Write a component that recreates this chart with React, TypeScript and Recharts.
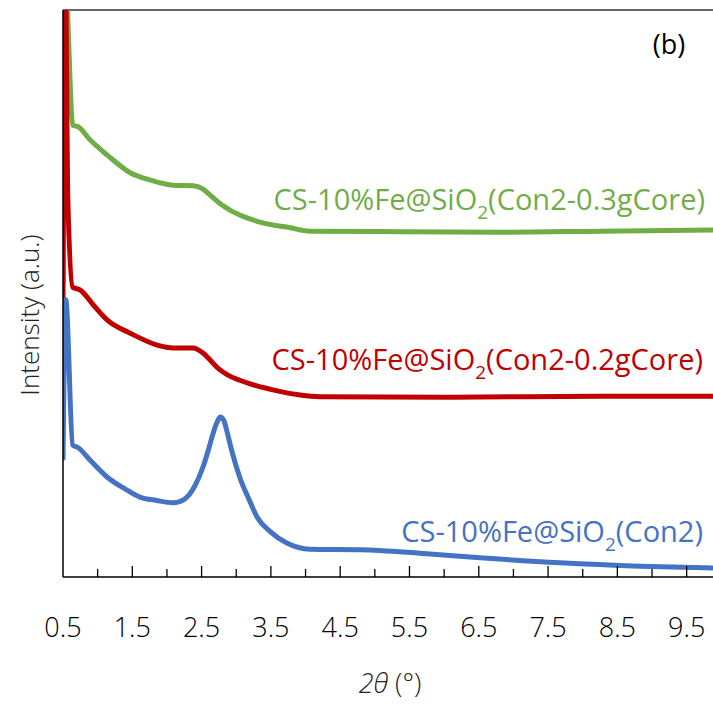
import { LineChart, Line, XAxis, YAxis, ReferenceLine } from "recharts";

// 2θ ticks (labels only on x.5)
const xTicks = [0.5, 1, 1.5, 2, 2.5, 3, 3.5, 4, 4.5, 5, 5.5, 6, 6.5, 7, 7.5, 8, 8.5, 9, 9.5];

// CS-10%Fe@SiO2(Con2-0.3gCore) - green
const greenTheta = [0.5, 0.53, 0.57, 0.64, 0.72, 0.89, 1.14, 1.47, 1.76, 2.09, 2.38, 2.52, 2.62, 2.76, 2.91, 3.1, 3.34, 3.78, 4.06, 5.36, 6.81, 8.25, 9.88];
const greenInt = [520, 1100, 982, 797, 794, 771, 744, 713, 700, 691, 690, 684, 674, 659, 647, 636, 626, 616, 610, 609, 608, 610, 612];

// CS-10%Fe@SiO2(Con2-0.2gCore) - red
const redTheta = [0.5, 0.53, 0.57, 0.64, 0.75, 0.95, 1.14, 1.47, 1.86, 2.09, 2.38, 2.52, 2.62, 2.72, 2.88, 3.05, 3.3, 3.53, 3.92, 4.21, 6.08, 8.25, 9.88];
const redInt = [489, 1100, 665, 511, 506, 478, 453, 430, 409, 404, 404, 395, 383, 370, 356, 347, 337, 330, 321, 318, 317, 319, 319];

// CS-10%Fe@SiO2(Con2) - blue
const blueTheta = [0.5, 0.54, 0.64, 0.72, 0.9, 1.14, 1.4, 1.61, 1.85, 2.09, 2.25, 2.4, 2.52, 2.6, 2.67, 2.72, 2.77, 2.82, 2.87, 2.93, 3.05, 3.18, 3.3, 3.49, 3.73, 4.06, 4.79, 5.65, 6.52, 7.67, 8.83, 9.88];
const blueInt = [206, 489, 233, 228, 205, 176, 155, 141, 135, 131, 137, 160, 194, 225, 255, 272, 282, 276, 255, 225, 176, 138, 106, 80, 60, 49, 48, 42, 34, 25, 19, 16];

const toRows = (xs: number[], ys: number[]) => xs.map((x, i) => ({ theta: x, intensity: ys[i] }));

const greenData = toRows(greenTheta, greenInt);
const redData = toRows(redTheta, redInt);
const blueData = toRows(blueTheta, blueInt);

const FONT = "'Open Sans', 'Noto Sans', sans-serif";

const XTick = (props: any) => {
  const { x, y, payload } = props;
  const v = payload.value as number;
  const major = Math.abs(v - Math.floor(v) - 0.5) < 1e-6;
  return (
    <g>
      {v > 0.5 && (
        <line x1={x} x2={x} y1={y} y2={y - (major ? 11 : 8)} stroke="#000" strokeWidth={1.3} />
      )}
      {major && (
        <text x={x} y={y + 60} textAnchor="middle" fontSize={27} fill="#000" fontFamily={FONT} fontWeight={300}>
          {v.toFixed(1)}
        </text>
      )}
    </g>
  );
};

const SeriesLabel = ({ x, y, color, tail }: { x: number; y: number; color: string; tail: string }) => (
  <text x={x} y={y} textAnchor="end" fontSize={29} fill={color} fontFamily={FONT}>
    CS-10%Fe@SiO
    <tspan fontSize={19} dy={9}>2</tspan>
    <tspan dy={-9}>{tail}</tspan>
  </text>
);

export default function App() {
  return (
    <div style={{ position: "absolute", left: 0, top: 0, width: 713, height: 709, background: "#fff" }}>
      <LineChart width={713} height={709} margin={{ top: 10, right: 0, bottom: 0, left: 0 }}>
        <XAxis
          type="number"
          dataKey="theta"
          domain={[0.5, 9.88]}
          ticks={xTicks}
          interval={0}
          allowDataOverflow
          height={132}
          tickSize={0}
          tickMargin={0}
          tickLine={false}
          tick={<XTick />}
          axisLine={{ stroke: "#000", strokeWidth: 1.5 }}
        />
        <YAxis
          type="number"
          dataKey="intensity"
          domain={[0, 1000]}
          allowDataOverflow
          width={63}
          tick={false}
          tickLine={false}
          axisLine={{ stroke: "#000", strokeWidth: 1.5 }}
        />
        <ReferenceLine y={1000} stroke="#333" strokeWidth={1.5} />
        <Line data={greenData} dataKey="intensity" type="monotone" stroke="#70AD47" strokeWidth={5} dot={false} isAnimationActive={false} />
        <Line data={redData} dataKey="intensity" type="monotone" stroke="#C00000" strokeWidth={5} dot={false} isAnimationActive={false} />
        <Line data={blueData} dataKey="intensity" type="monotone" stroke="#4472C4" strokeWidth={5} dot={false} isAnimationActive={false} />
      </LineChart>
      <svg width={713} height={709} style={{ position: "absolute", left: 0, top: 0, pointerEvents: "none" }}>
        <SeriesLabel x={705} y={210} color="#70AD47" tail="(Con2-0.3gCore)" />
        <SeriesLabel x={703} y={370} color="#C00000" tail="(Con2-0.2gCore)" />
        <SeriesLabel x={703} y={542} color="#4472C4" tail="(Con2)" />
        <text x={669} y={54} textAnchor="middle" fontSize={27} fill="#000" fontFamily={FONT}>(b)</text>
        <text x={39} y={315} transform="rotate(-90 39 315)" textAnchor="middle" fontSize={26} fill="#222" fontFamily={FONT} fontWeight={300}>
          Intensity (a.u.)
        </text>
        <text x={390} y={693} textAnchor="middle" fontSize={27} fill="#222" fontFamily={FONT} fontWeight={300}>
          <tspan fontStyle="italic">2θ</tspan> (°)
        </text>
      </svg>
    </div>
  );
}
